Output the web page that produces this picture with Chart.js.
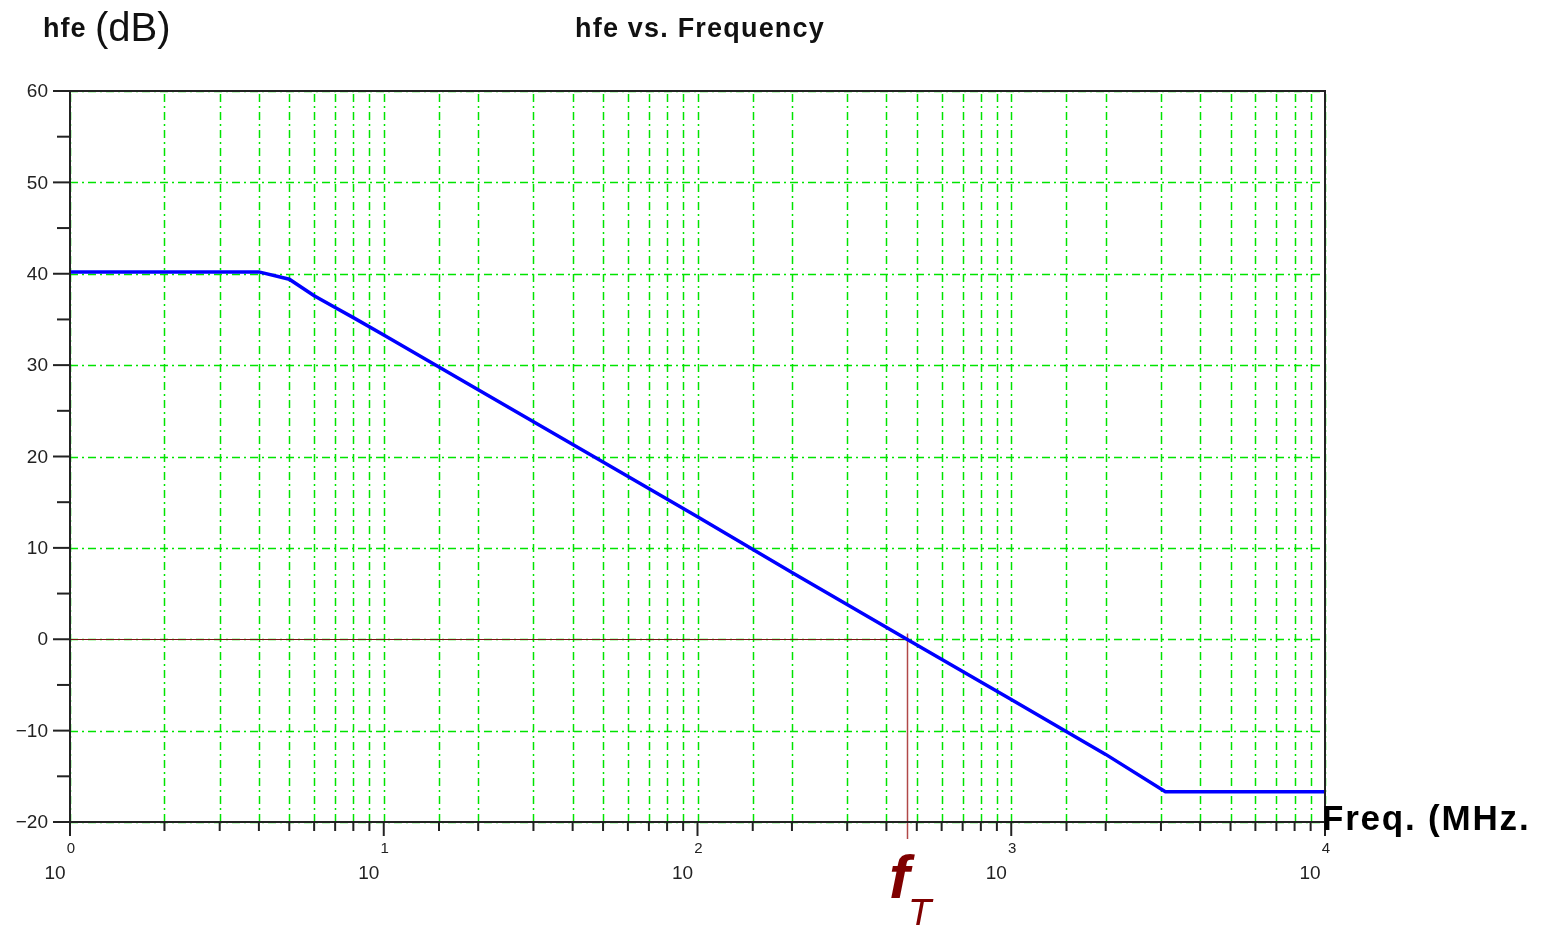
<!DOCTYPE html>
<html>
<head>
<meta charset="utf-8">
<script src="https://cdn.jsdelivr.net/npm/chart.js@4.4.0/dist/chart.umd.min.js"></script>
<style>
  body{margin:0;background:#fff;}
  #wrap{width:1541px;height:925px;}
</style>
</head>
<body>
<div id="wrap"><canvas id="myChart" width="1541" height="925"></canvas></div>
<script>
// values
var freqMHz = [1, 4, 5, 6, 7, 8, 10, 20, 50, 100, 200, 465, 1000, 2000, 3100, 10000];
var hfeDb   = [40.2, 40.2, 39.4, 37.6, 36.3, 35.2, 33.3, 27.3, 19.4, 13.4, 7.3, 0, -6.6, -12.6, -16.7, -16.7];
var xDecades = [1, 10, 100, 1000, 10000];
var xExponents = ['0', '1', '2', '3', '4'];
var yLabels = [60, 50, 40, 30, 20, 10, 0, -10, -20];
var fT = 465;

var GREEN = '#00e400';
var AXIS = '#222';
var DASH = [8, 4, 2, 4];

var pts = [];
for (var i = 0; i < freqMHz.length; i++) {
  pts.push({x: freqMHz[i], y: hfeDb[i]});
}

function px(v) { return Math.round(v) + 0.5; }

// green dash-dot grid, drawn from the scales' own ticks
var grid = {
  id: 'grid',
  beforeDatasetsDraw: function(chart) {
    var ctx = chart.ctx, a = chart.chartArea;
    var xs = chart.scales.x, ys = chart.scales.y;
    ctx.save();
    ctx.strokeStyle = GREEN;
    ctx.lineWidth = 1.5;
    ctx.setLineDash(DASH);
    xs.ticks.forEach(function(t) {
      var x = px(xs.getPixelForValue(t.value));
      ctx.beginPath(); ctx.moveTo(x, a.bottom); ctx.lineTo(x, a.top); ctx.stroke();
    });
    ys.ticks.forEach(function(t) {
      if (t.value % 10 !== 0) return;
      var y = px(ys.getPixelForValue(t.value));
      ctx.beginPath(); ctx.moveTo(a.left, y); ctx.lineTo(a.right, y); ctx.stroke();
    });
    ctx.setLineDash([]);
    // fT marker
    var fx = px(xs.getPixelForValue(fT)), zy = px(ys.getPixelForValue(0));
    ctx.strokeStyle = '#7a1414';
    ctx.lineWidth = 1.2;
    ctx.beginPath(); ctx.moveTo(a.left, zy); ctx.lineTo(fx, zy); ctx.stroke();
    ctx.strokeStyle = '#b04848';
    ctx.lineWidth = 1.5;
    ctx.beginPath(); ctx.moveTo(fx, zy - 6); ctx.lineTo(fx, a.bottom + 17); ctx.stroke();
    ctx.restore();
  }
};

// axes box, tick marks and labels
var decor = {
  id: 'decor',
  afterDraw: function(chart) {
    var ctx = chart.ctx, a = chart.chartArea;
    var xs = chart.scales.x, ys = chart.scales.y;
    var fx = xs.getPixelForValue(fT);
    ctx.save();

    ctx.strokeStyle = AXIS;
    ctx.lineWidth = 2;
    ctx.strokeRect(a.left, a.top, a.right - a.left, a.bottom - a.top);

    // y ticks every 5, labels every 10
    ctx.font = '19px "Liberation Sans", Arial, sans-serif';
    ctx.fillStyle = AXIS;
    ctx.textAlign = 'right';
    ctx.textBaseline = 'middle';
    for (var v = -20; v <= 60; v += 5) {
      var y = ys.getPixelForValue(v);
      var major = v % 10 === 0;
      ctx.beginPath();
      ctx.moveTo(a.left - (major ? 17 : 13), y);
      ctx.lineTo(a.left, y);
      ctx.stroke();
    }
    yLabels.forEach(function(v) {
      var y = ys.getPixelForValue(v);
      ctx.fillText(String(v).replace('-', '\u2212'), a.left - 22, y + 1);
    });

    // x ticks at every log tick
    xs.ticks.forEach(function(t) {
      var x = xs.getPixelForValue(t.value);
      var major = xDecades.indexOf(t.value) >= 0;
      ctx.beginPath();
      ctx.moveTo(x, a.bottom);
      ctx.lineTo(x, a.bottom + (major ? 14 : 9));
      ctx.stroke();
    });
    xDecades.forEach(function(d, i) {
      var x = xs.getPixelForValue(d);
      ctx.textAlign = 'center';
      ctx.font = '15px "Liberation Sans", Arial, sans-serif';
      ctx.fillText(xExponents[i], x + 1, a.bottom + 27);
      ctx.font = '19px "Liberation Sans", Arial, sans-serif';
      ctx.fillText('10', x - 15, a.bottom + 52);
    });

    // titles
    ctx.textBaseline = 'alphabetic';
    ctx.textAlign = 'left';
    ctx.fillStyle = '#111';
    ctx.letterSpacing = '1px';
    ctx.font = 'bold 27px "Liberation Sans", Arial, sans-serif';
    ctx.fillText('hfe', 43, 37);
    ctx.letterSpacing = '0px';
    ctx.font = '40px "Liberation Sans", Arial, sans-serif';
    ctx.fillText('(dB)', 95, 41);

    ctx.letterSpacing = '1.2px';
    ctx.font = 'bold 27px "Liberation Sans", Arial, sans-serif';
    ctx.fillText('hfe vs. Frequency', 575, 37);

    ctx.letterSpacing = '1.8px';
    ctx.fillStyle = '#000';
    ctx.font = 'bold 35px "Liberation Sans", Arial, sans-serif';
    ctx.fillText('Freq. (MHz.', a.right - 3, 830);
    ctx.letterSpacing = '0px';

    // f_T label
    ctx.fillStyle = '#7f0000';
    ctx.font = 'italic bold 62px "Liberation Sans", Arial, sans-serif';
    ctx.fillText('f', fx - 18, 898);
    ctx.fillStyle = '#800000';
    ctx.font = 'italic 38px "Liberation Sans", Arial, sans-serif';
    ctx.fillText('T', fx + 1, 926);

    ctx.restore();
  }
};

var config = {
  type: 'line',
  data: {
    datasets: [{
      label: 'hfe',
      data: pts,
      borderColor: '#0000ff',
      backgroundColor: '#0000ff',
      borderWidth: 3.5,
      pointRadius: 0,
      tension: 0,
      fill: false
    }]
  },
  options: {
    responsive: false,
    animation: false,
    events: [],
    layout: { padding: { left: 0, top: 91, right: 216, bottom: 0 } },
    plugins: { legend: { display: false }, tooltip: { enabled: false }, title: { display: false } },
    scales: {
      x: {
        type: 'logarithmic',
        min: 1,
        max: 10000,
        afterFit: function(s) { s.height = 103; },
        ticks: { display: false },
        grid: { display: false, drawTicks: false },
        border: { display: false }
      },
      y: {
        type: 'linear',
        min: -20,
        max: 60,
        afterFit: function(s) { s.width = 70; },
        ticks: { display: false, stepSize: 5 },
        grid: { display: false, drawTicks: false },
        border: { display: false }
      }
    }
  },
  plugins: [grid, decor]
};

var myChart = new Chart(document.getElementById('myChart'), config);
</script>
</body>
</html>
